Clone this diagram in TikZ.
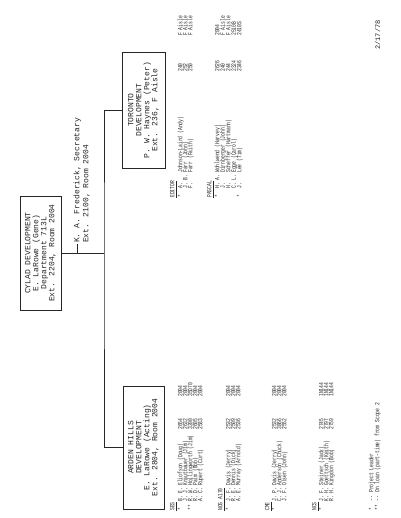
\documentclass[tikz,border=0pt]{standalone}
\usepackage{fontspec}
\newfontfamily\dotfont{Liberation Mono}
\newfontfamily\dotsmall[FakeStretch=0.72]{Liberation Mono}
\definecolor{ink}{gray}{0.15}
\tikzset{
  orgbox/.style={draw=ink, line width=0.7pt, rotate=90, align=center, inner sep=0pt,
    text=ink, font=\dotfont\fontsize{8}{8}\selectfont},
  bigtxt/.style={rotate=90, inner sep=0pt, anchor=base west, text=ink,
    font=\dotfont\fontsize{8}{8}\selectfont},
  lt/.style={rotate=90, inner sep=0pt, anchor=base west, text=ink,
    font=\dotsmall\fontsize{6.5}{5}\selectfont},
  link/.style={draw=ink, line width=0.7pt}
}
\newcommand\prow[7]{%
  \node[lt] (#1a) at (#2,\ystar) {#3};
  \node[lt] (#1b) at (#2,\yinit) {#4};
  \node[lt] (#1c) at (#2,\yname) {#5};
  \node[lt] (#1d) at (#2,\yext) {#6};
  \node[lt] (#1e) at (#2,\yroom) {#7};
}
\begin{document}
\begin{tikzpicture}[x=1pt,y=-1pt]
\useasboundingbox[fill=white] (0,0) rectangle (400,518);

% boxes
\node[orgbox, minimum width=114pt, minimum height=41pt] (cylad) at (40.5,253)
  {CYLAD DEVELOPMENT\\E. LaRowe (Gene)\\Department 713L\\Ext. 2204, Room 2004};
\node[orgbox, minimum width=116pt, minimum height=43pt] (toronto) at (143.5,110)
  {TORONTO\\DEVELOPMENT\\P. W. Haynes (Peter)\\Ext. 236, F Aisle};
\node[orgbox, minimum width=123pt, minimum height=41pt] (arden) at (143.5,447.5)
  {ARDEN HILLS\\DEVELOPMENT\\E. LaRowe (Acting)\\Ext. 2804, Room 2004};

% connectors
\coordinate (trunk) at (104,253);
\draw[link] (cylad.south) -- (trunk);
\draw[link] (toronto.north) -| (trunk) |- (arden.north);

% secretary
\node[bigtxt] (sec1) at (79.4,243) {K. A. Frederick, Secretary};
\node[bigtxt] (sec2) at (88.4,243) {Ext. 2100, Room 2004};
\coordinate (sectick) at (77,244);
\draw[link] (sectick) -- (sectick |- trunk);

% ---------- Arden Hills lists
\def\ystar{511}\def\yinit{502}\def\yname{486}\def\yext{430}\def\yroom{397}
\node[lt] (ses) at (174.4,\ystar) {\underline{SES}};
\prow{sa}{182.4}{*}{B. E.}{Eliofson (Doug)}{2654}{2004}
\prow{sb}{187.4}{}{J. J.}{Krautbauer (Jim)}{2632}{2004}
\prow{sc}{192.4}{**}{R. W.}{Hollingworth (Jim)}{3200}{35D70}
\prow{sd}{197.4}{}{R. D.}{Palm (Bob)}{2605}{2004}
\prow{se}{202.4}{}{A. C.}{Rupert (Curt)}{2583}{2004}

\node[lt] (nos) at (222.4,\ystar) {\underline{NOS A170}};
\prow{na}{230.4}{*}{J. F.}{Davis (Jerry)}{2532}{2004}
\prow{nb}{235.4}{}{R. E.}{Dennis (Dick)}{2509}{2004}
\prow{nc}{240.4}{}{A. E.}{Murray (Arnold)}{2536}{2004}

\node[lt] (cme) at (269.4,\ystar) {\underline{CME}};
\prow{ca}{276.4}{*}{J. P.}{Davis (Jerry)}{2532}{2004}
\prow{cb}{281.4}{}{C. J.}{Anderson (Chuck)}{3866}{2004}
\prow{cc}{286.4}{}{J. F.}{Olsen (John)}{2552}{2004}

\node[lt] (ncs) at (316.4,\ystar) {\underline{NCS}};
\prow{ka}{323.4}{*}{J. F.}{Steiner (Jack)}{2745}{1N144}
\prow{kb}{328.4}{}{K. H.}{Goettsch (Keith)}{2797}{1N144}
\prow{kc}{333.4}{}{R. H.}{Kingdon (Bob)}{2759}{1N144}

\node[lt] (fa1) at (373.4,511) {*};
\node[lt] (fa2) at (373.4,502) {--};
\node[lt] (fa3) at (373.4,493) {Project Leader};
\node[lt] (fb1) at (379.4,511) {**};
\node[lt] (fb2) at (379.4,502) {--};
\node[lt] (fb3) at (379.4,493) {On loan (part-time) from Scope 2};

% ---------- Toronto lists
\def\ystar{198}\def\yinit{189}\def\yname{173}\def\yext{72}\def\yroom{36}
\node[lt] (edit) at (174.4,\ystar) {\underline{EDITOR}};
\prow{ea}{182.4}{*}{A.}{Johnson-Laird (Andy)}{240}{F Aisle}
\prow{eb}{187.4}{}{J. B.}{Farr (John)}{252}{F Aisle}
\prow{ec}{192.4}{}{F.}{Farr (Faith)}{250}{F Aisle}

\node[lt] (pas) at (211.4,\ystar) {\underline{PASCAL}};
\prow{pa}{219.4}{*}{H. A.}{Wohlwend (Harvey)}{2626}{2004}
\prow{pb}{224.9}{}{J.}{Dirnberger (John)}{240}{F Aisle}
\prow{pc}{230.4}{}{H.}{Scheffer (Hartmann)}{244}{F Aisle}
\prow{pd}{235.9}{}{C. L.}{Egge (Carol)}{2324}{2510B}
\prow{pe}{241.4}{*}{J.}{Lee (Tim)}{2346}{2410S}

\node[lt, font=\dotfont\fontsize{7}{7}\selectfont] (date) at (380,50) {2/17/78};
\end{tikzpicture}
\end{document}
